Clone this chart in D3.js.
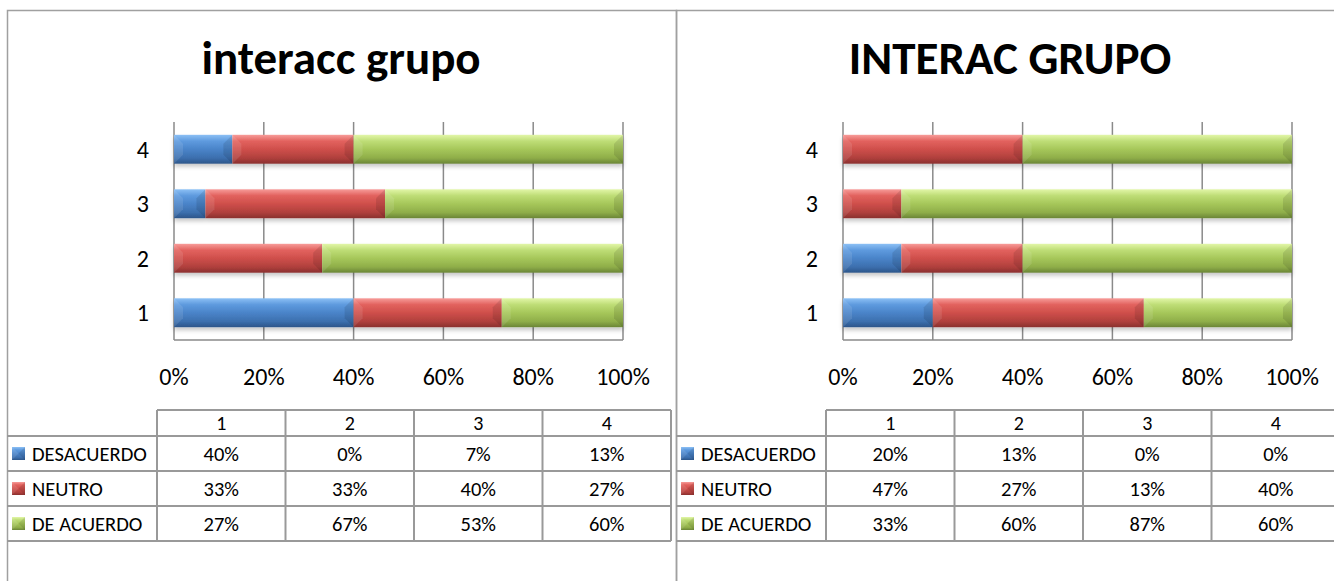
<!DOCTYPE html>
<html>
<head>
<meta charset="utf-8">
<script src="https://cdn.jsdelivr.net/npm/d3@7"></script>
<style>
  body { margin: 0; background: #fff; }
  svg { display: block; }
</style>
</head>
<body>
<svg id="chart" width="1334" height="581"></svg>
<script>
// chart values
var categories = ["1", "2", "3", "4"];
var seriesNames = ["DESACUERDO", "NEUTRO", "DE ACUERDO"];
var tickValues = [0, 0.2, 0.4, 0.6, 0.8, 1];

var leftTitle = "interacc grupo";
var leftDesacuerdo = [40, 0, 7, 13];
var leftNeutro = [33, 33, 40, 27];
var leftAcuerdo = [27, 67, 53, 60];

var rightTitle = "INTERAC GRUPO";
var rightDesacuerdo = [20, 13, 0, 0];
var rightNeutro = [47, 27, 13, 40];
var rightAcuerdo = [33, 60, 87, 60];

var font = "Calibri, Carlito, Lato, sans-serif";
var gridColor = "#8a8a8a";

// gradient stops for each series (light top -> dark bottom)
var shades = [
  ["#8cc0f5", "#5e9ade", "#4a84c9", "#3c6fae", "#2c5589"],
  ["#f79c99", "#e2625e", "#cf4f4b", "#b0403d", "#8a302e"],
  ["#e2f6a8", "#bedd76", "#a6c75a", "#8fae49", "#6a8536"]
];

var svg = d3.select("#chart");
var defs = svg.append("defs");

shades.forEach(function(s, i) {
  var g = defs.append("linearGradient")
    .attr("id", "grad" + i)
    .attr("x1", 0).attr("y1", 0).attr("x2", 0).attr("y2", 1);
  [0, 0.22, 0.5, 0.8, 1].forEach(function(o, j) {
    g.append("stop").attr("offset", o).attr("stop-color", s[j]);
  });
});

var shadow = defs.append("filter").attr("id", "shadow")
  .attr("x", "-5%").attr("y", "-20%").attr("width", "110%").attr("height", "160%");
shadow.append("feDropShadow")
  .attr("dx", 0).attr("dy", 3).attr("stdDeviation", 2)
  .attr("flood-color", "#000").attr("flood-opacity", 0.22);

// bevelled block like the office 2007 bars
function bevel(g, x0, x1, y0, y1, i) {
  var w = x1 - x0;
  if (w <= 0) return;
  var d = Math.min(9, w / 2, (y1 - y0) / 2);
  g.append("rect")
    .attr("x", x0).attr("y", y0)
    .attr("width", w).attr("height", y1 - y0)
    .attr("fill", "url(#grad" + i + ")");
  g.append("polygon")
    .attr("points", [[x0, y0], [x0 + d, y0 + d], [x0 + d, y1 - d], [x0, y1]].join(" "))
    .attr("fill", "#fff").attr("opacity", 0.1);
  g.append("polygon")
    .attr("points", [[x1, y0], [x1 - d, y0 + d], [x1 - d, y1 - d], [x1, y1]].join(" "))
    .attr("fill", "#000").attr("opacity", 0.1);
}

function drawPanel(x0, title, desacuerdo, neutro, acuerdo) {
  var panel = svg.append("g");

  // outer frame
  panel.append("rect")
    .attr("x", x0 + 0.5).attr("y", 10.5)
    .attr("width", 669).attr("height", 620)
    .attr("fill", "none")
    .attr("stroke", "#a0a0a0")
    .attr("stroke-width", 1.5);

  panel.append("text")
    .attr("x", x0 + 334).attr("y", 74)
    .attr("text-anchor", "middle")
    .style("font-family", font)
    .style("font-weight", "bold")
    .style("font-size", "47px")
    .text(title);

  var rows = categories.map(function(c, k) {
    return { cat: c, DESACUERDO: desacuerdo[k], NEUTRO: neutro[k], "DE ACUERDO": acuerdo[k] };
  });

  var stack = d3.stack().keys(seriesNames).offset(d3.stackOffsetExpand)(rows);

  var x = d3.scaleLinear().domain([0, 1]).range([x0 + 167, x0 + 616]);
  var y = d3.scaleBand()
    .domain(categories.slice().reverse())
    .range([122, 340])
    .paddingInner(0.47)
    .paddingOuter(0.235);

  // gridlines
  panel.append("g").selectAll("line")
    .data(tickValues)
    .enter().append("line")
    .attr("x1", function(d) { return x(d); })
    .attr("x2", function(d) { return x(d); })
    .attr("y1", 122).attr("y2", 340)
    .attr("stroke", gridColor)
    .attr("stroke-width", 1.5);

  panel.append("line")
    .attr("x1", x(0)).attr("x2", x(1))
    .attr("y1", 340).attr("y2", 340)
    .attr("stroke", gridColor)
    .attr("stroke-width", 1.5);

  // bars
  categories.forEach(function(c, k) {
    var g = panel.append("g").attr("filter", "url(#shadow)");
    stack.forEach(function(layer, i) {
      var seg = layer[k];
      bevel(g, x(seg[0]), x(seg[1]), y(c), y(c) + y.bandwidth(), i);
    });
  });

  // category labels
  panel.append("g").selectAll("text")
    .data(categories)
    .enter().append("text")
    .attr("x", x0 + 142)
    .attr("y", function(d) { return y(d) + y.bandwidth() / 2; })
    .attr("dy", "0.35em")
    .attr("text-anchor", "end")
    .style("font-family", font)
    .style("font-size", "24px")
    .text(function(d) { return d; });

  // percent tick labels
  panel.append("g").selectAll("text")
    .data(tickValues)
    .enter().append("text")
    .attr("x", function(d) { return x(d); })
    .attr("y", 385)
    .attr("text-anchor", "middle")
    .style("font-family", font)
    .style("font-size", "24px")
    .text(d3.format(".0%"));

  // data table
  var col = d3.scaleBand().domain(categories).range([x0 + 150, x0 + 664]);
  var row = d3.scaleBand().domain(seriesNames).range([436, 541]);
  var tableLine = "#999";
  var t = panel.append("g");

  t.append("line")
    .attr("x1", col.range()[0]).attr("x2", col.range()[1])
    .attr("y1", 410).attr("y2", 410)
    .attr("stroke", tableLine).attr("stroke-width", 2);
  t.selectAll(".hl")
    .data([436, 471, 506, 541])
    .enter().append("line")
    .attr("x1", x0).attr("x2", col.range()[1])
    .attr("y1", function(d) { return d; }).attr("y2", function(d) { return d; })
    .attr("stroke", tableLine).attr("stroke-width", 2);
  t.selectAll(".vl")
    .data(categories.map(function(c) { return col(c); }).concat([col.range()[1]]))
    .enter().append("line")
    .attr("x1", function(d) { return d; }).attr("x2", function(d) { return d; })
    .attr("y1", 410).attr("y2", 541)
    .attr("stroke", tableLine).attr("stroke-width", 2);

  t.selectAll(".head")
    .data(categories)
    .enter().append("text")
    .attr("x", function(d) { return col(d) + col.bandwidth() / 2; })
    .attr("y", 423).attr("dy", "0.35em")
    .attr("text-anchor", "middle")
    .style("font-family", font).style("font-size", "20px")
    .text(function(d) { return d; });

  seriesNames.forEach(function(s, i) {
    var cy = row(s) + row.bandwidth() / 2;
    var key = t.append("g");
    bevel(key, x0 + 5, x0 + 18, cy - 6.5, cy + 6.5, i);
    t.append("text")
      .attr("x", x0 + 25).attr("y", cy).attr("dy", "0.35em")
      .style("font-family", font).style("font-size", "20.5px")
      .text(s);
    t.selectAll(".v" + i)
      .data(stack[i])
      .enter().append("text")
      .attr("x", function(d, k) { return col(categories[k]) + col.bandwidth() / 2; })
      .attr("y", cy).attr("dy", "0.35em")
      .attr("text-anchor", "middle")
      .style("font-family", font).style("font-size", "20.5px")
      .text(function(d) { return d3.format(".0%")(d[1] - d[0]); });
  });
}

drawPanel(7, leftTitle, leftDesacuerdo, leftNeutro, leftAcuerdo);
drawPanel(676, rightTitle, rightDesacuerdo, rightNeutro, rightAcuerdo);
</script>
</body>
</html>
